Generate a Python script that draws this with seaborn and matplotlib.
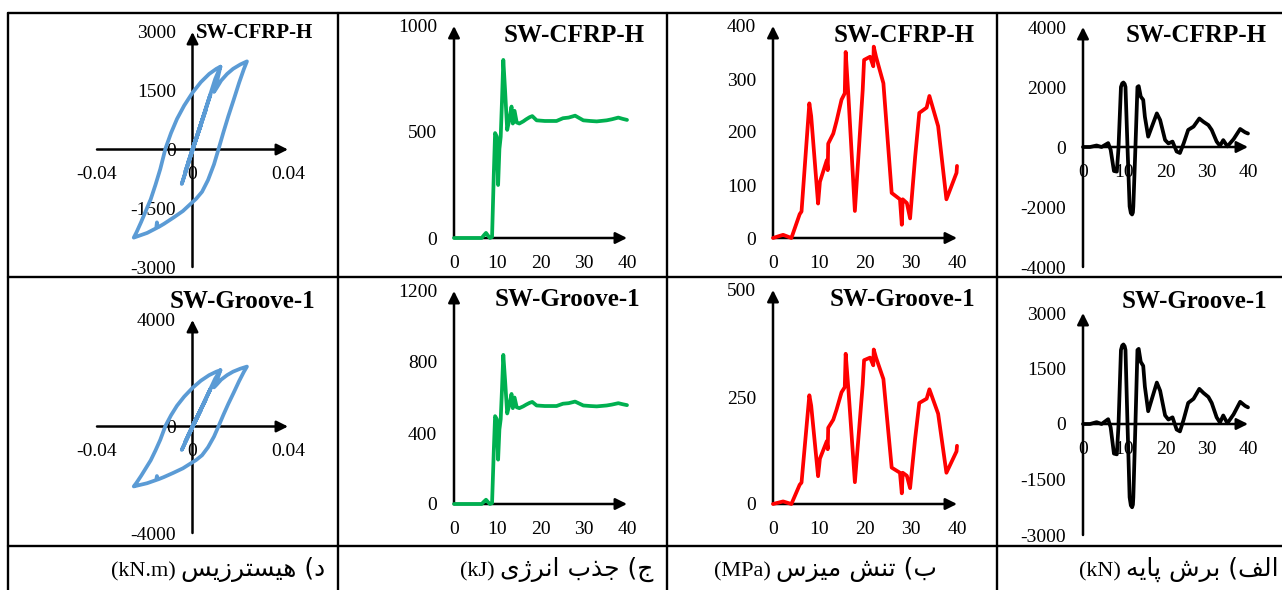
import matplotlib
matplotlib.use("Agg")
import matplotlib.pyplot as plt
from matplotlib.lines import Line2D
import seaborn as sns

W, H, DPI = 1282, 590, 100

# ---------------- data ----------------
# hysteresis loop: drift ratio vs. moment (kN.m)
hyst_drift = [0.0, 0.0015, -0.0008, 0.0035, -0.0018, 0.0055, -0.0030, 0.0075, -0.0045, 0.0095,
              0.0117, 0.0105, 0.0090, 0.0100, 0.0120, 0.0145, 0.0170, 0.0200, 0.0228,
              0.0215, 0.0195, 0.0172, 0.0150, 0.0130, 0.0110, 0.0090, 0.0065, 0.0040, 0.0015,
              -0.0010, -0.0040, -0.0080, -0.0120, -0.0145, -0.0149, -0.0152, -0.0190, -0.0246,
              -0.0235, -0.0215, -0.0195, -0.0175, -0.0155, -0.0135, -0.0113, -0.0090, -0.0065,
              -0.0035, 0.0000, 0.0035, 0.0070, 0.0100, 0.0117]
hyst_moment = [0, 280, -150, 620, -330, 1000, -560, 1400, -880, 1800,
               2115, 1800, 1470, 1560, 1760, 1930, 2060, 2170, 2250,
               2050, 1700, 1260, 850, 450, 30, -380, -780, -1080, -1260,
               -1400, -1570, -1740, -1900, -1990, -1860, -2010, -2130, -2250,
               -2120, -1850, -1560, -1270, -900, -500, 30, 420, 780,
               1120, 1450, 1720, 1930, 2060, 2115]

# absorbed energy (kJ) vs. time (s)
energy_t = [0, 6.4, 7.0, 7.4, 7.9, 8.3, 8.8, 9.2, 9.5, 9.9, 10.2, 10.5, 10.8, 11.1, 11.4, 11.8,
            12.3, 12.8, 13.3, 13.6, 14.0, 14.5, 15.1, 16.0, 16.7, 17.5, 18.1, 19.1, 21.0, 23.7,
            25.2, 26.5, 28.0, 29.9, 31.5, 33.0, 35.3, 36.5, 38.0, 39.0, 40.0]
energy_kj = [0, 0, 15, 24, 10, 0, 5, 300, 495, 478, 250, 420, 478, 650, 840, 700,
             510, 560, 620, 540, 600, 545, 540, 550, 560, 570, 575, 555, 552, 552,
             565, 568, 577, 555, 552, 550, 555, 560, 568, 562, 557]

# von Mises stress (MPa) vs. time (s)
stress_t = [0, 2.2, 4.0, 5.8, 6.2, 7.9, 8.3, 9.8, 10.2, 11.7, 11.9, 12.0, 13.1, 13.8, 14.9,
            15.6, 15.8, 16.4, 17.8, 19.5, 19.8, 21.1, 21.8, 21.9, 22.4, 24.0, 25.8, 27.6, 28.0,
            28.2, 29.1, 29.8, 30.9, 31.8, 33.4, 34.0, 35.9, 37.7, 39.9, 40.0]
stress_mpa = [0, 6, 0, 45, 50, 254, 230, 65, 106, 147, 128, 178, 197, 220, 261,
              273, 351, 267, 51, 279, 336, 342, 324, 361, 342, 292, 85, 73, 25,
              73, 66, 37, 153, 236, 246, 268, 211, 73, 123, 136]

# base shear (kN) vs. time (s)
shear_t = [0, 1.7, 3.3, 4.5, 6.1, 6.7, 7.5, 8.2, 8.6, 9.2, 9.5, 9.8, 10.1, 10.3, 10.8, 11.3,
           11.6, 11.9, 12.1, 12.2, 12.7, 13.2, 13.5, 14.0, 14.6, 15.0, 15.8, 16.7, 17.9, 18.7,
           19.9, 20.7, 21.7, 22.7, 23.5, 24.4, 25.5, 26.8, 28.2, 29.2, 30.4, 31.2, 32.4, 33.2,
           34.0, 35.0, 36.5, 38.1, 39.3, 40.0]
shear_kn = [0, 0, 50, 0, 130, -90, -800, -820, -50, 2000, 2120, 2150, 2100, 2000, -50, -1980,
            -2200, -2250, -2180, -1980, -50, 2000, 2030, 1680, 1570, 1010, 345, 680, 1120, 900,
            233, 120, 180, -150, -200, 120, 570, 680, 950, 840, 730, 570, 180, 40,
            230, 20, 260, 600, 490, 450]

# axis ticks
drift_ticks = [-0.04, 0, 0.04]
drift_labels = ["-0.04", "0", "0.04"]
time_ticks = [0, 10, 20, 30, 40]
time_labels = ["0", "10", "20", "30", "40"]
hyst_ticks_top = [-3000, -1500, 0, 1500, 3000]
hyst_ticks_bot = [-4000, 0, 4000]
energy_ticks_top = [0, 500, 1000]
energy_ticks_bot = [0, 400, 800, 1200]
stress_ticks_top = [0, 100, 200, 300, 400]
stress_ticks_bot = [0, 250, 500]
shear_ticks_top = [-4000, -2000, 0, 2000, 4000]
shear_ticks_bot = [-3000, -1500, 0, 1500, 3000]

specimens = ["SW-CFRP-H", "SW-Groove-1"]

# captions: unit + Persian label (display order, contextual letter forms)
caption_units = ["(kN.m)", "(kJ)", "(MPa)", "(kN)"]
caption_names = [
    "\uFEB2\uFEF3\uFEAF\uFEAE\uFE98\uFEB4\uFEF4\uFEEB (\u062F",
    "\u06CC\u0698\uFEAE\uFEE7\u0627 \u0628\uFEAC\uFE9F (\u062C",
    "\u0633\uFEB0\uFEF4\uFEE3 \uFEB6\uFEE8\uFE97 (\u0628",
    "\uFEEA\uFEF3\uFE8E\uFB58 \u0634\uFEAE\uFE91 (\uFED2\uFEDF\u0627",
]

# ---------------- style ----------------
sns.set_style("white")
plt.rcParams["font.family"] = ["Liberation Serif", "DejaVu Sans"]
plt.rcParams["axes.unicode_minus"] = False
plt.rcParams["text.color"] = "black"

fig = plt.figure(figsize=(W / DPI, H / DPI), dpi=DPI)
fig.patch.set_facecolor("white")


def fx(px):
    return px / W


def fy(py):
    return 1 - py / H


def panel(left, right, top, bottom):
    return fig.add_axes([fx(left), fy(bottom), fx(right - left), (bottom - top) / H])


def style_axes(ax, xlim, ylim, xticks, xlabels, yticks):
    ax.set_xlim(*xlim)
    ax.set_ylim(*ylim)
    ax.patch.set_visible(False)
    for s in ax.spines.values():
        s.set_visible(False)
    ax.spines["bottom"].set_position(("data", 0))
    ax.spines["left"].set_position(("data", 0))
    ax.set_xticks(xticks, xlabels)
    ax.set_yticks(yticks, [str(v) for v in yticks])
    ax.tick_params(axis="both", length=0, labelsize=14, colors="black")
    ax.tick_params(axis="x", pad=12)
    ax.tick_params(axis="y", pad=12)
    ax.set_xlabel("")
    ax.set_ylabel("")
    arrow = dict(arrowstyle="-|>", lw=1.8, color="black", mutation_scale=17,
                 shrinkA=0, shrinkB=0)
    ax.annotate("", xy=(xlim[1], 0), xytext=(xlim[0], 0), arrowprops=arrow,
                annotation_clip=False, zorder=2)
    ax.annotate("", xy=(0, ylim[1]), xytext=(0, ylim[0]), arrowprops=arrow,
                annotation_clip=False, zorder=2)


def draw(ax, x, y, color):
    sns.lineplot(x=x, y=y, ax=ax, sort=False, estimator=None, color=color,
                 lw=2.7, legend=False, zorder=3)
    for ln in ax.lines:
        ln.set_clip_on(False)
        ln.set_solid_joinstyle("round")
        ln.set_solid_capstyle("round")


BLUE, GREEN, RED, BLACK = "#5B9BD5", "#00B050", "#FF0000", "#000000"

rows = [
    dict(hyst_y=(32, 267), hyst_lim=(-3000, 3000), hyst_ticks=hyst_ticks_top,
         energy_y=(26, 238), energy_lim=(0, 1000), energy_ticks=energy_ticks_top,
         stress_y=(26, 238), stress_lim=(0, 400), stress_ticks=stress_ticks_top,
         shear_y=(27, 267), shear_lim=(-4000, 4000), shear_ticks=shear_ticks_top),
    dict(hyst_y=(320, 533), hyst_lim=(-4000, 4000), hyst_ticks=hyst_ticks_bot,
         energy_y=(291, 504), energy_lim=(0, 1200), energy_ticks=energy_ticks_bot,
         stress_y=(290, 504), stress_lim=(0, 500), stress_ticks=stress_ticks_bot,
         shear_y=(313, 535), shear_lim=(-3000, 3000), shear_ticks=shear_ticks_bot),
]

for r, cfg in enumerate(rows):
    ax = panel(97, 288, *cfg["hyst_y"])
    draw(ax, hyst_drift, hyst_moment, BLUE)
    style_axes(ax, (-0.04, 0.04), cfg["hyst_lim"], drift_ticks, drift_labels, cfg["hyst_ticks"])

    ax = panel(454, 627, *cfg["energy_y"])
    draw(ax, energy_t, energy_kj, GREEN)
    style_axes(ax, (0, 40), cfg["energy_lim"], time_ticks, time_labels, cfg["energy_ticks"])

    ax = panel(773, 957, *cfg["stress_y"])
    draw(ax, stress_t, stress_mpa, RED)
    style_axes(ax, (0, 40), cfg["stress_lim"], time_ticks, time_labels, cfg["stress_ticks"])

    ax = panel(1083, 1248, *cfg["shear_y"])
    draw(ax, shear_t, shear_kn, BLACK)
    style_axes(ax, (0, 40), cfg["shear_lim"], time_ticks, time_labels, cfg["shear_ticks"])

# specimen names in each panel
title_pos = [
    [(313, 33, 15), (645, 35, 18), (975, 35, 18), (1267, 35, 18)],
    [(315, 302, 18), (640, 300, 18), (975, 300, 18), (1267, 302, 18)],
]
for r, name in enumerate(specimens):
    for (x, y, size) in title_pos[r]:
        fig.text(fx(x), fy(y), name, ha="right", va="center", fontsize=size,
                 fontweight="bold", family="Liberation Serif", color="black")

# table grid
lw_grid = 1.7
for y in (13, 277, 546):
    fig.add_artist(Line2D([fx(8), 1.0], [fy(y), fy(y)], color="black", lw=lw_grid))
for x in (8, 338, 667, 997):
    fig.add_artist(Line2D([fx(x), fx(x)], [fy(13), 0.0], color="black", lw=lw_grid))

# captions: Persian label right-aligned in its cell, unit set to its left,
# both sitting on a common baseline
cap_right = [325, 653, 937, 1279]
cap_baseline = 576
renderer = fig.canvas.get_renderer()
for unit, name, x in zip(caption_units, caption_names, cap_right):
    t = fig.text(fx(x), fy(cap_baseline), name, ha="right", va="baseline", fontsize=18,
                 family="DejaVu Sans", color="black")
    left_px = t.get_window_extent(renderer).x0
    fig.text(fx(left_px - 5), fy(cap_baseline), unit, ha="right", va="baseline",
             fontsize=16, family="Liberation Serif", color="black")

fig.savefig("out.png", dpi=DPI, facecolor="white")
